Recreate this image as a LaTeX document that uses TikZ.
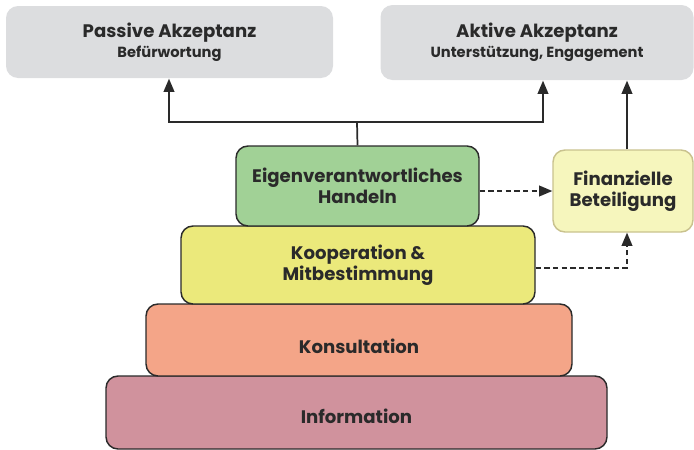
\documentclass[tikz,border=0pt]{standalone}
\usepackage{fontspec}
\setmainfont{Poppins}
\usetikzlibrary{arrows,calc}
\definecolor{BoxGray}{HTML}{DCDDDF}
\definecolor{HandelnClr}{HTML}{A1D196}
\definecolor{KoopClr}{HTML}{EBE97B}
\definecolor{KonsClr}{HTML}{F4A588}
\definecolor{InfoClr}{HTML}{D0929D}
\definecolor{FinClr}{HTML}{F6F6BD}
\definecolor{FinLine}{HTML}{C9C28E}
\definecolor{LineClr}{HTML}{2A2A2A}

\begin{document}
\begin{tikzpicture}[x=0.75pt,y=-0.75pt,
  lbl/.style={font=\bfseries\fontsize{13.6}{16}\selectfont,text=LineClr,align=center},
  box/.style={lbl,rounded corners=9pt,draw=LineClr,line width=1.1pt,inner sep=0pt},
  topbox/.style={box,draw=none,fill=BoxGray},
  arr/.style={-triangle 45,line width=1.3pt,draw=LineClr},
  darr/.style={arr,dashed,dash pattern=on 4pt off 2.5pt}]
\useasboundingbox (0,0) rectangle (694,450);

\node[topbox,minimum width=327*0.75pt,minimum height=72*0.75pt] (passive) at (169.5,42)
  {Passive Akzeptanz\\[-1pt]{\fontsize{11}{13}\selectfont Befürwortung}};
\node[topbox,minimum width=313*0.75pt,minimum height=75*0.75pt] (aktive) at (537,42.5)
  {Aktive Akzeptanz\\[-1pt]{\fontsize{11}{13}\selectfont Unterstützung, Engagement}};

\node[box,fill=InfoClr,minimum width=501*0.75pt,minimum height=73*0.75pt] (info) at (356.5,412.5) {};
\node[lbl] (infotext) at (356.5,416) {Information};
\node[box,fill=KonsClr,minimum width=426*0.75pt,minimum height=72*0.75pt] (kons) at (359,340) {};
\node[lbl] (konstext) at (359,346) {Konsultation};
\node[box,fill=KoopClr,minimum width=354*0.75pt,minimum height=78*0.75pt] (koop) at (358,265) {Kooperation \&\\Mitbestimmung};
\node[box,fill=HandelnClr,minimum width=243*0.75pt,minimum height=80*0.75pt] (handeln) at (357.5,186) {Eigenverantwortliches\\Handeln};
\node[box,draw=FinLine,fill=FinClr,minimum width=140*0.75pt,minimum height=82*0.75pt] (fin) at (623,191) {Finanzielle\\Beteiligung};

\coordinate (split) at (357,122);
\draw[line width=1.3pt,draw=LineClr] (handeln.north) -- (split);
\draw[arr] (split) -| ($(passive.south)+(-0.5,0)$);
\draw[arr] (split) -| ($(aktive.south)+(6,0)$);
\draw[arr] ($(fin.north)+(4,0)$) -- ($(aktive.south)+(90,0)$);

\draw[darr] (fin.west -| handeln.east) -- (fin.west);
\draw[darr] ($(koop.east)+(0,3)$) -| ($(fin.south)+(4,0)$);

\end{tikzpicture}
\end{document}
